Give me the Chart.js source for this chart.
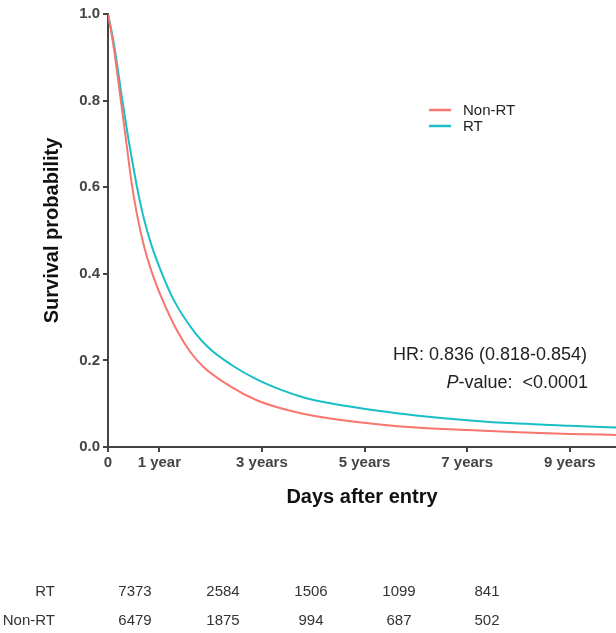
<!DOCTYPE html>
<html>
<head>
<meta charset="utf-8">
<script src="https://cdn.jsdelivr.net/npm/chart.js@4"></script>
<style>
  body { margin: 0; background: #fff; }
  canvas { display: block; }
</style>
</head>
<body>
<canvas id="km_chart" width="616" height="633"></canvas>
<script>
// follow-up time in years
var yearsRT = [0, 0.117, 0.28, 0.4, 0.5, 0.6, 0.7, 0.85, 1.0, 1.27, 1.7, 2.0, 2.4, 2.9, 3.35, 3.8, 4.33, 5.3, 6, 7, 8, 9, 9.9];
var survRT  = [1.0, 0.93, 0.8, 0.71, 0.642, 0.58, 0.527, 0.465, 0.416, 0.342, 0.263, 0.225, 0.19, 0.156, 0.133, 0.115, 0.101, 0.083, 0.073, 0.062, 0.054, 0.049, 0.045];
var yearsNonRT = [0, 0.1, 0.25, 0.35, 0.46, 0.56, 0.7, 0.85, 1.05, 1.34, 1.6, 1.86, 2.4, 2.9, 3.35, 3.8, 4.33, 5.3, 6, 7, 8, 9, 9.9];
var survNonRT  = [1.0, 0.932, 0.8, 0.71, 0.61, 0.54, 0.465, 0.405, 0.343, 0.27, 0.22, 0.185, 0.139, 0.108, 0.09, 0.077, 0.066, 0.052, 0.045, 0.039, 0.034, 0.03, 0.028];
var xTicks = [0, 1, 3, 5, 7, 9];

// numbers at risk
var riskRows = ['RT', 'Non-RT'];
var riskRT    = [7373, 2584, 1506, 1099, 841];
var riskNonRT = [6479, 1875, 994, 687, 502];

var hrText = 'HR: 0.836 (0.818-0.854)';
var pText = '<0.0001';

function toPoints(xs, ys) {
  return xs.map(function (t, i) { return { x: t, y: ys[i] }; });
}

var labelsPlugin = {
  id: 'labelsPlugin',
  afterDraw: function (chart) {
    var ctx = chart.ctx;
    ctx.save();
    // legend
    var ds = chart.data.datasets;
    ctx.font = '15px "Liberation Sans", Arial, sans-serif';
    ctx.textBaseline = 'middle';
    ctx.textAlign = 'left';
    ds.forEach(function (d, i) {
      var y = 110 + i * 16;
      ctx.strokeStyle = d.borderColor;
      ctx.lineWidth = 2.5;
      ctx.beginPath();
      ctx.moveTo(429, y);
      ctx.lineTo(451, y);
      ctx.stroke();
      ctx.fillStyle = '#222';
      ctx.fillText(d.label, 463, y + 1);
    });

    // HR / p-value
    ctx.font = '18px "Liberation Sans", Arial, sans-serif';
    ctx.textAlign = 'right';
    ctx.fillStyle = '#222';
    ctx.fillText(hrText, 587, 355);
    var w1 = ctx.measureText('-value:  ' + pText).width;
    ctx.fillText('-value:  ' + pText, 588, 383);
    ctx.font = 'italic 18px "Liberation Sans", Arial, sans-serif';
    ctx.fillText('P', 588 - w1, 383);

    // risk table
    ctx.font = '15px "Liberation Sans", Arial, sans-serif';
    ctx.fillStyle = '#333';
    var rows = [riskRT, riskNonRT];
    rows.forEach(function (vals, r) {
      var y = 592 + r * 29;
      ctx.textAlign = 'right';
      ctx.fillText(riskRows[r], 55, y);
      ctx.textAlign = 'center';
      vals.forEach(function (v, i) {
        ctx.fillText(String(v), 135 + i * 88, y);
      });
    });
    ctx.restore();
  }
};

var ctx1 = document.getElementById('km_chart').getContext('2d');

var kmChart = new Chart(ctx1, {
  type: 'line',
  data: {
    datasets: [{
      label: 'Non-RT',
      data: toPoints(yearsNonRT, survNonRT),
      borderColor: '#F8766D',
      borderWidth: 2,
      pointRadius: 0,
      cubicInterpolationMode: 'monotone'
    }, {
      label: 'RT',
      data: toPoints(yearsRT, survRT),
      borderColor: '#19BFC6',
      borderWidth: 2,
      pointRadius: 0,
      cubicInterpolationMode: 'monotone'
    }]
  },
  options: {
    responsive: false,
    animation: false,
    layout: { padding: { top: 14, left: 0, right: 0, bottom: 106 } },
    plugins: {
      legend: { display: false },
      tooltip: { enabled: false }
    },
    scales: {
      x: {
        type: 'linear',
        min: 0,
        max: 9.9,
        afterBuildTicks: function (axis) {
          axis.ticks = xTicks.map(function (v) { return { value: v }; });
        },
        afterFit: function (axis) { axis.height = 80; },
        ticks: {
          color: '#444',
          padding: 2,
          maxRotation: 0,
          font: { family: '"Liberation Sans", Arial, sans-serif', size: 15, weight: 'bold' },
          callback: function (v) {
            if (v === 0) return '0';
            return v === 1 ? '1 year' : v + ' years';
          }
        },
        grid: { drawOnChartArea: false, drawTicks: true, tickLength: 5, color: '#444', lineWidth: 2 },
        border: { display: true, color: '#444', width: 2 },
        title: {
          display: true,
          text: 'Days after entry',
          color: '#111',
          padding: { top: 0, bottom: 18 },
          font: { family: '"Liberation Sans", Arial, sans-serif', size: 20, weight: 'bold' }
        }
      },
      y: {
        min: 0,
        max: 1,
        afterFit: function (axis) { axis.width = 108; },
        ticks: {
          stepSize: 0.2,
          color: '#444',
          padding: 3,
          font: { family: '"Liberation Sans", Arial, sans-serif', size: 15, weight: 'bold' },
          callback: function (v) { return v.toFixed(1); }
        },
        grid: { drawOnChartArea: false, drawTicks: true, tickLength: 5, color: '#444', lineWidth: 2 },
        border: { display: true, color: '#444', width: 2 },
        title: {
          display: true,
          text: 'Survival probability',
          color: '#111',
          padding: { top: 40, bottom: 0 },
          font: { family: '"Liberation Sans", Arial, sans-serif', size: 20, weight: 'bold' }
        }
      }
    }
  },
  plugins: [labelsPlugin]
});
</script>
</body>
</html>
